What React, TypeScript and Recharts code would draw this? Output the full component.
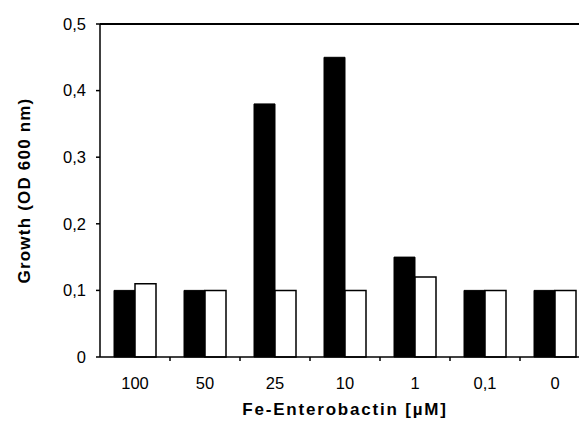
import {Bar, BarChart, ReferenceLine, XAxis, YAxis} from "recharts";

const concentrations = ['100', '50', '25', '10', '1', '0,1', '0'];
const blackSeries = [0.1, 0.1, 0.38, 0.45, 0.15, 0.1, 0.1];
const whiteSeries = [0.11, 0.1, 0.1, 0.1, 0.12, 0.1, 0.1];
const yTicks = [0, 0.1, 0.2, 0.3, 0.4, 0.5];

const data = concentrations.map((c, i) => ({name: c, black: blackSeries[i], white: whiteSeries[i]}));

const font = '"Liberation Sans", Arial, sans-serif';
const chartWidth = 600;
const leftWidth = 100;
const rightMargin = 10;
const bandWidth = (chartWidth - leftWidth - rightMargin) / concentrations.length;
const xTickMargin = 16;

function CategoryTick(props: any) {
    const {x, y, payload} = props;
    const axisY = y - 4 - xTickMargin;
    return (
        <g>
            <line x1={x + bandWidth / 2} x2={x + bandWidth / 2} y1={axisY} y2={axisY + 4} stroke="#000" strokeWidth={1.5}/>
            <text x={x} y={y} dy="0.71em" textAnchor="middle" fontFamily={font} fontSize={16.5} fill="#000">
                {payload.value}
            </text>
        </g>
    );
}

export default function App() {
    return (
        <div style={{position: 'fixed', top: 0, left: 0, width: 579, height: 424, overflow: 'hidden', background: '#fff'}}>
            <BarChart width={chartWidth} height={424} data={data}
                      margin={{top: 24, right: rightMargin, bottom: 0, left: 0}}
                      barCategoryGap="20%" barGap={0}>
                <XAxis dataKey="name" height={67} stroke="#000" strokeWidth={1.5} tickLine={false}
                       tickSize={4} tickMargin={xTickMargin} tick={<CategoryTick/>} interval={0}
                       label={{
                           content: (p: any) => {
                               const vb = p.viewBox;
                               return (
                                   <text x={vb.x + vb.width / 2} y={415} textAnchor="middle" fontFamily={font}
                                         fontWeight="bold" fontSize={17} letterSpacing={1.8} fill="#000">
                                       Fe-Enterobactin [µM]
                                   </text>
                               );
                           }
                       }}/>
                <YAxis width={leftWidth} domain={[0, 0.5]} ticks={yTicks} stroke="#000" strokeWidth={1.5}
                       tickSize={4} tickMargin={10} interval={0}
                       tick={{fill: '#000', fontSize: 16.5, fontFamily: font}}
                       tickFormatter={(v: number) => String(v).replace('.', ',')}
                       label={{
                           content: (p: any) => {
                               const vb = p.viewBox;
                               const cy = vb.y + vb.height / 2;
                               return (
                                   <text x={24} y={cy} transform={`rotate(-90 24 ${cy})`} textAnchor="middle"
                                         dominantBaseline="central" fontFamily={font} fontWeight="bold"
                                         fontSize={17} letterSpacing={1.2} fill="#000">
                                       Growth (OD 600 nm)
                                   </text>
                               );
                           }
                       }}/>
                <ReferenceLine y={0.5} stroke="#000" strokeWidth={2}/>
                <Bar dataKey="black" fill="#000" stroke="#000" strokeWidth={1} isAnimationActive={false}/>
                <Bar dataKey="white" fill="#fff" stroke="#000" strokeWidth={1.5} isAnimationActive={false}/>
            </BarChart>
        </div>
    );
}
